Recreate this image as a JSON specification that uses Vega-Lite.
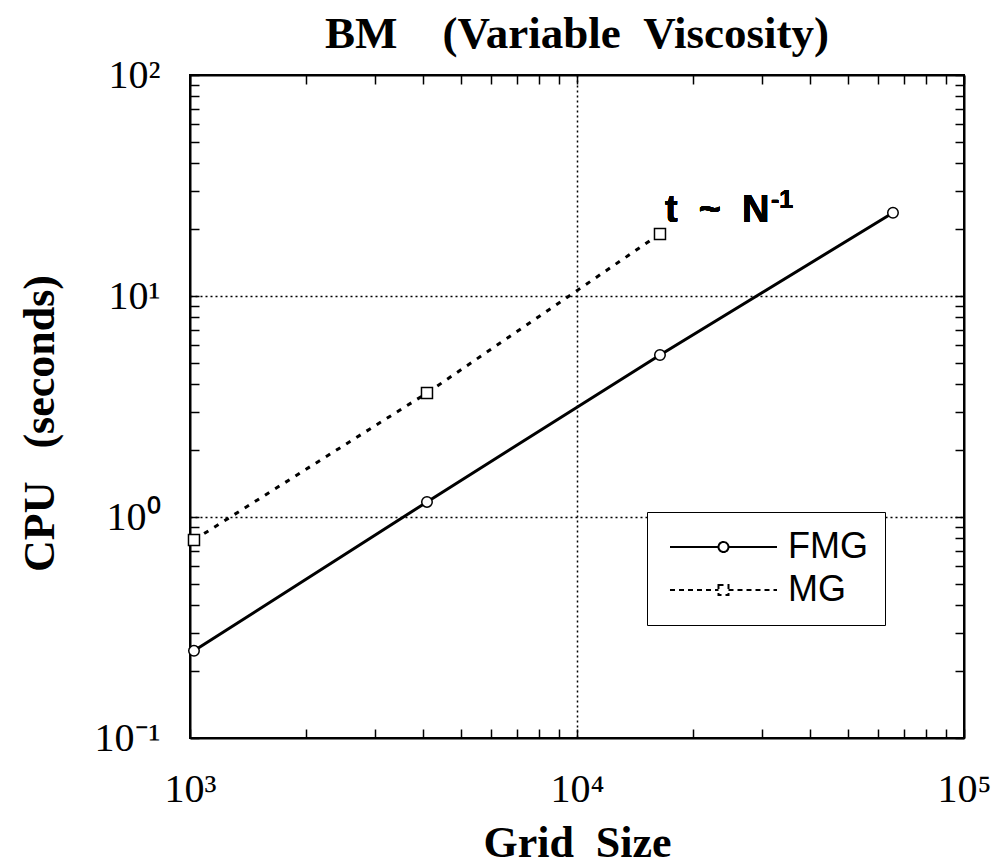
{
  "$schema": "https://vega.github.io/schema/vega-lite/v6.json",
  "width": 774,
  "height": 663,
  "autosize": "none",
  "padding": {"left": 190, "top": 75, "right": 32, "bottom": 129},
  "background": "white",
  "title": {
    "text": "BM\u00a0\u00a0\u00a0\u00a0(Variable\u00a0\u00a0Viscosity)",
    "font": "Liberation Serif",
    "fontSize": 45,
    "fontWeight": "bold",
    "color": "black",
    "anchor": "middle",
    "offset": -2
  },
  "config": {
    "view": {"stroke": "black", "strokeWidth": 2},
    "axis": {
      "domainColor": "black",
      "domainWidth": 2,
      "tickColor": "black",
      "tickWidth": 1.5,
      "tickSize": -9,
      "labelColor": "black",
      "labelFont": "Liberation Serif",
      "labelFontSize": 40,
      "labelFlush": false,
      "labelOverlap": false,
      "titleColor": "black",
      "titleFont": "Liberation Serif",
      "titleFontWeight": "bold",
      "titleFontSize": 44
    }
  },
  "data": {
    "values": [
      {"method": "FMG", "N": 1024, "cpu": 0.248},
      {"method": "FMG", "N": 4096, "cpu": 1.17},
      {"method": "FMG", "N": 16384, "cpu": 5.41},
      {"method": "FMG", "N": 65536, "cpu": 23.8},
      {"method": "MG", "N": 1024, "cpu": 0.787},
      {"method": "MG", "N": 4096, "cpu": 3.64},
      {"method": "MG", "N": 16384, "cpu": 19.1}
    ]
  },
  "layer": [
    {
      "encoding": {
        "x": {
          "field": "N",
          "type": "quantitative",
          "scale": {"type": "log", "domain": [1000, 100000]},
          "axis": {
            "orient": "bottom",
            "values": [1000, 2000, 3000, 4000, 5000, 6000, 7000, 8000, 9000, 10000, 20000, 30000, 40000, 50000, 60000, 70000, 80000, 90000, 100000],
            "labelExpr": "datum.value == 1000 ? '10³' : datum.value == 10000 ? '10⁴' : datum.value == 100000 ? '10⁵' : ''",
            "labelPadding": 40,
            "labelAlign": "center",
            "grid": true,
            "gridColor": "black",
            "gridDash": [2, 3],
            "gridWidth": 1.5,
            "gridOpacity": {"condition": {"test": "datum.value == 10000", "value": 1}, "value": 0},
            "title": "Grid\u00a0\u00a0Size",
            "titleX": 387,
            "titleY": 105,
            "titleBaseline": "middle"
          }
        },
        "y": {
          "field": "cpu",
          "type": "quantitative",
          "scale": {"type": "log", "domain": [0.1, 100]},
          "axis": {
            "orient": "left",
            "values": [0.1, 0.2, 0.3, 0.4, 0.5, 0.6, 0.7, 0.8, 0.9, 1, 2, 3, 4, 5, 6, 7, 8, 9, 10, 20, 30, 40, 50, 60, 70, 80, 90, 100],
            "labelExpr": "datum.value == 100 ? '10²' : datum.value == 10 ? '10¹' : datum.value == 1 ? '10⁰' : datum.value == 0.1 ? '10⁻¹' : ''",
            "labelPadding": 39,
            "labelBaseline": "middle",
            "grid": true,
            "gridColor": "black",
            "gridDash": [2, 3],
            "gridWidth": 1.5,
            "gridOpacity": {"condition": {"test": "datum.value == 10 || datum.value == 1", "value": 1}, "value": 0},
            "title": "CPU\u00a0\u00a0\u00a0(seconds)",
            "titleAngle": -90,
            "titleX": -150,
            "titleY": 348,
            "titleBaseline": "middle",
            "titleAlign": "center"
          }
        }
      },
      "layer": [
        {
          "transform": [{"filter": "datum.method == 'FMG'"}],
          "mark": {"type": "line", "color": "black", "strokeWidth": 3}
        },
        {
          "transform": [{"filter": "datum.method == 'MG'"}],
          "mark": {"type": "line", "color": "black", "strokeWidth": 3, "strokeDash": [5, 7]}
        },
        {
          "transform": [{"filter": "datum.method == 'FMG'"}],
          "mark": {"type": "point", "shape": "circle", "size": 110, "filled": true, "fill": "white", "stroke": "black", "strokeWidth": 1.5, "opacity": 1}
        },
        {
          "transform": [{"filter": "datum.method == 'MG'"}],
          "mark": {"type": "point", "shape": "square", "size": 121, "filled": true, "fill": "white", "stroke": "black", "strokeWidth": 1.5, "opacity": 1}
        },
        {
          "mark": {"type": "text", "text": "t\u00a0\u00a0~\u00a0\u00a0N", "font": "Liberation Sans", "fontWeight": "bold", "fontSize": 38, "align": "left", "baseline": "alphabetic", "color": "black"},
          "encoding": {"x": {"datum": 16870}, "y": {"datum": 21.6}}
        },
        {
          "mark": {"type": "text", "text": "-1", "font": "Liberation Sans", "fontWeight": "bold", "fontSize": 25, "align": "left", "baseline": "alphabetic", "dx": 106, "dy": -14, "color": "black"},
          "encoding": {"x": {"datum": 16870}, "y": {"datum": 21.6}}
        }
      ]
    },
    {
      "transform": [{"filter": "false"}],
      "mark": {"type": "point", "filled": false, "color": "black", "strokeWidth": 2, "opacity": 1},
      "encoding": {
        "x": {
          "field": "N",
          "type": "quantitative",
          "scale": {"type": "log", "domain": [1000, 100000]},
          "axis": {
            "orient": "top",
            "values": [1000, 2000, 3000, 4000, 5000, 6000, 7000, 8000, 9000, 10000, 20000, 30000, 40000, 50000, 60000, 70000, 80000, 90000, 100000],
            "labels": false,
            "title": null
          }
        },
        "y": {
          "field": "cpu",
          "type": "quantitative",
          "scale": {"type": "log", "domain": [0.1, 100]},
          "axis": {
            "orient": "right",
            "values": [0.1, 0.2, 0.3, 0.4, 0.5, 0.6, 0.7, 0.8, 0.9, 1, 2, 3, 4, 5, 6, 7, 8, 9, 10, 20, 30, 40, 50, 60, 70, 80, 90, 100],
            "labels": false,
            "title": null
          }
        },
        "shape": {
          "field": "method",
          "type": "nominal",
          "scale": {
            "domain": ["FMG", "MG"],
            "range": [
              "M-10.7,0H-1M1,0H10.7M1,0A1,1 0 1,1 -1,0A1,1 0 1,1 1,0",
              "M-10.7,0H-1M1,0H10.7M-1,-1H1V1H-1Z"
            ]
          },
          "legend": {
            "title": null,
            "orient": "none",
            "legendX": 457,
            "legendY": 437,
            "fillColor": "white",
            "strokeColor": "black",
            "padding": 17,
            "symbolSize": 100,
            "symbolStrokeColor": "black",
            "symbolStrokeWidth": 2,
            "symbolFillColor": "transparent",
            "symbolOffset": 41.5,
            "labelOffset": 46.5,
            "labelFont": "Liberation Sans",
            "labelFontSize": 36,
            "labelColor": "black",
            "rowPadding": 7,
            "encode": {"legend": {"update": {"strokeWidth": {"value": 2.5}}}}
          }
        },
        "strokeDash": {
          "field": "method",
          "type": "nominal",
          "scale": {"domain": ["FMG", "MG"], "range": [[1, 0], [5, 4]]},
          "legend": null
        }
      }
    }
  ],
  "resolve": {"axis": {"x": "independent", "y": "independent"}}
}
